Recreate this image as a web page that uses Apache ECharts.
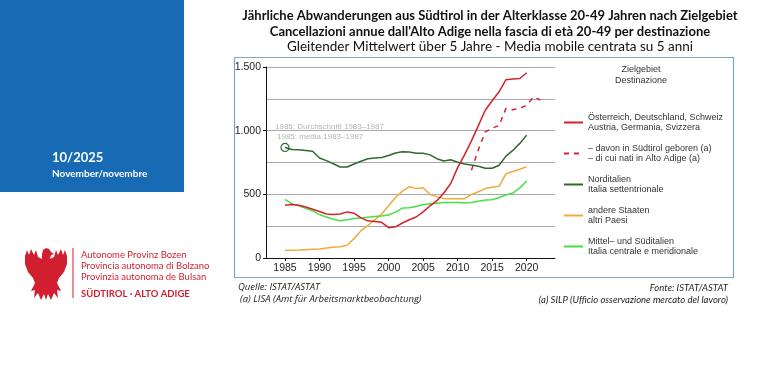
<!DOCTYPE html>
<html><head><meta charset="utf-8">
<script src="https://cdn.jsdelivr.net/npm/echarts@6/dist/echarts.min.js"></script>
<style>html,body{margin:0;padding:0;background:#fff}#c{width:784px;height:381px}</style>
</head><body><div id="c"></div>
<script>
const years = [1985,1986,1987,1988,1989,1990,1991,1992,1993,1994,1995,1996,1997,1998,1999,2000,2001,2002,2003,2004,2005,2006,2007,2008,2009,2010,2011,2012,2013,2014,2015,2016,2017,2018,2019,2020];
const austriaGermanySwiss = [415,420,415,400,383,365,345,342,345,362,352,315,292,287,280,238,245,275,300,322,362,410,450,510,585,710,810,920,1040,1160,1235,1305,1400,1405,1410,1455];
const bornYears = [2012,2013,2014,2015,2016,2017,2018,2019,2020,2021,2022];
const bornInSouthTyrol = [690,850,990,1020,1040,1175,1165,1175,1200,1265,1240];
const northItaly = [868,852,850,845,838,785,765,740,715,715,738,760,780,785,790,805,825,835,832,822,822,810,780,762,772,752,738,730,720,705,705,728,800,845,900,965];
const otherCountries = [60,60,62,65,68,70,78,85,88,100,152,215,255,300,345,410,475,525,560,545,552,500,480,468,465,466,466,500,520,545,555,563,662,680,697,718];
const centralSouthItaly = [460,425,410,390,370,340,322,305,293,300,310,315,320,325,330,338,360,392,395,405,420,425,430,435,435,435,432,435,445,455,458,475,495,510,550,605];
const xTickLabels = [1985,1990,1995,2000,2005,2010,2015,2020];
const yTickLabels = [0,500,1000,1500];

const names = [
  'Österreich, Deutschland, Schweiz\nAustria, Germania, Svizzera',
  '– davon in Südtirol geboren (a)\n– di cui nati in Alto Adige (a)',
  'Norditalien\nItalia settentrionale',
  'andere Staaten\naltri Paesi',
  'Mittel– und Süditalien\nItalia centrale e meridionale'
];
const pair = (xs, ys) => xs.map((x, i) => [x, ys[i]]);
const FONT = 'Liberation Sans';
const chart = echarts.init(document.getElementById('c'), null, {renderer: 'canvas'});

// eagle shape (decorative logo)
const eagle = [[46,248],[49,249],[51,252],[54,254],[51,255],[50,259],[54,257],[56,250],[58,255],[61,249],[63,255],[65,250],[67,256],[67,264],[64,272],[59,278],[57,283],[61,291],[57,290],[58,298],[54,293],[51,300],[48,294],[46,300],[44,294],[41,300],[38,293],[34,298],[35,290],[31,291],[35,283],[33,278],[28,272],[25,264],[25,256],[27,250],[29,255],[31,249],[34,255],[36,250],[38,257],[42,259],[42,254],[43,250]];

chart.setOption({
  animation: false,
  graphic: [
    {type: 'rect', shape: {x: 0, y: 0, width: 184, height: 192}, style: {fill: '#176bb4'}},
    {type: 'text', x: 52, y: 158, style: {text: '10/2025', fill: '#fff', font: 'bold 13px Lato', verticalAlign: 'middle'}},
    {type: 'text', x: 52, y: 174, style: {text: 'November/novembre', fill: '#fff', font: 'bold 10px Lato', verticalAlign: 'middle'}},
    {type: 'polygon', shape: {points: eagle}, style: {fill: '#d21f30'}},
    {type: 'rect', shape: {x: 72.5, y: 248, width: 1, height: 50}, style: {fill: '#d21f30'}},
    {type: 'text', x: 81, y: 254.5, style: {text: 'Autonome Provinz Bozen', fill: '#d21f30', font: '9.5px Lato', verticalAlign: 'middle'}},
    {type: 'text', x: 81, y: 265.5, style: {text: 'Provincia autonoma di Bolzano', fill: '#d21f30', font: '9.5px Lato', verticalAlign: 'middle'}},
    {type: 'text', x: 81, y: 276.5, style: {text: 'Provinzia autonoma de Bulsan', fill: '#d21f30', font: '9.5px Lato', verticalAlign: 'middle'}},
    {type: 'text', x: 81, y: 294, style: {text: 'SÜDTIROL · ALTO ADIGE', fill: '#d21f30', font: 'bold 9.5px Lato', verticalAlign: 'middle'}},
    {type: 'text', x: 490, y: 16, style: {text: 'Jährliche Abwanderungen aus Südtirol in der Alterklasse 20-49 Jahren nach Zielgebiet', fill: '#111', font: 'bold 13px Lato', align: 'center', verticalAlign: 'middle'}},
    {type: 'text', x: 490, y: 31.5, style: {text: "Cancellazioni annue dall'Alto Adige nella fascia di età 20-49 per destinazione", fill: '#111', font: 'bold 13px Lato', align: 'center', verticalAlign: 'middle'}},
    {type: 'text', x: 490, y: 46.5, style: {text: 'Gleitender Mittelwert über 5 Jahre - Media mobile centrata su 5 anni', fill: '#111', font: '13.5px Lato', align: 'center', verticalAlign: 'middle'}},
    {type: 'rect', shape: {x: 234.5, y: 57.5, width: 499, height: 220}, style: {fill: 'none', stroke: '#7fa6cb', lineWidth: 1.2}},
    {type: 'text', x: 641, y: 70, style: {text: 'Zielgebiet', fill: '#333', font: '9px ' + FONT, align: 'center', verticalAlign: 'middle'}},
    {type: 'text', x: 641, y: 81, style: {text: 'Destinazione', fill: '#333', font: '9px ' + FONT, align: 'center', verticalAlign: 'middle'}},
    {type: 'text', x: 275, y: 127, style: {text: '1985: Durchschnitt 1983–1987', fill: '#b4b4b4', font: '8px ' + FONT, verticalAlign: 'middle'}},
    {type: 'text', x: 277, y: 137, style: {text: '1985: media 1983–1987', fill: '#b4b4b4', font: '8px ' + FONT, verticalAlign: 'middle'}},
    {type: 'text', x: 238, y: 287.5, style: {text: 'Quelle: ISTAT/ASTAT', fill: '#222', font: 'italic 9.5px "Open Sans"', verticalAlign: 'middle'}},
    {type: 'text', x: 240, y: 299.5, style: {text: '(a) LISA (Amt für Arbeitsmarktbeobachtung)', fill: '#222', font: 'italic 9.5px "Open Sans"', verticalAlign: 'middle'}},
    {type: 'text', x: 728, y: 287.5, style: {text: 'Fonte: ISTAT/ASTAT', fill: '#222', font: 'italic 9.5px Lato', align: 'right', verticalAlign: 'middle'}},
    {type: 'text', x: 728, y: 299.5, style: {text: '(a) SILP (Ufficio osservazione mercato del lavoro)', fill: '#222', font: 'italic 9.5px Lato', align: 'right', verticalAlign: 'middle'}}
  ],
  legend: {
    orient: 'vertical', left: 558, top: 107, itemWidth: 19, itemHeight: 10, itemGap: 10,
    data: names,
    textStyle: {fontFamily: FONT, fontSize: 9, color: '#333', lineHeight: 10.5},
    itemStyle: {opacity: 0}
  },
  grid: {left: 266, top: 67, width: 289, height: 191, containLabel: false},
  xAxis: {
    type: 'value', min: 1982.25, max: 2024.1,
    axisLine: {lineStyle: {color: '#111', width: 1}},
    axisTick: {customValues: xTickLabels, length: 3, lineStyle: {color: '#111'}},
    axisLabel: {customValues: xTickLabels, margin: 5, color: '#222', fontFamily: FONT, fontSize: 10.5, formatter: v => String(v)},
    splitLine: {show: false}
  },
  yAxis: [
    {type: 'value', min: 0, max: 1500, interval: 250,
      axisLine: {show: false}, axisTick: {show: false}, axisLabel: {show: false},
      splitLine: {lineStyle: {color: '#aaaaaa', width: 1}}},
    {type: 'value', min: 0, max: 1500, interval: 500, position: 'left', offset: 0,
      axisLine: {show: true, lineStyle: {color: '#111', width: 1}},
      axisTick: {show: true, length: 3, lineStyle: {color: '#111'}},
      axisLabel: {margin: 5, color: '#222', fontFamily: FONT, fontSize: 10.5,
        formatter: v => v >= 1000 ? Math.floor(v / 1000) + '.' + String(v % 1000).padStart(3, '0') : String(v)},
      splitLine: {show: false}}
  ],
  series: [
    {name: names[3], type: 'line', yAxisIndex: 0, data: pair(years, otherCountries), symbol: 'none', z: 3,
      lineStyle: {color: '#f2a93b', width: 1.5}, itemStyle: {color: '#f2a93b'}},
    {name: names[4], type: 'line', yAxisIndex: 0, data: pair(years, centralSouthItaly), symbol: 'none', z: 3,
      lineStyle: {color: '#46e046', width: 1.5}, itemStyle: {color: '#46e046'}},
    {name: names[2], type: 'line', yAxisIndex: 0, data: pair(years, northItaly), symbol: 'none', z: 4,
      lineStyle: {color: '#2b6b2e', width: 1.5}, itemStyle: {color: '#2b6b2e'},
      markPoint: {symbol: 'circle', symbolSize: 8, silent: true, label: {show: false},
        itemStyle: {color: 'rgba(255,255,255,0)', borderColor: '#2b6b2e', borderWidth: 1.2},
        data: [{coord: [years[0], northItaly[0]]}]}},
    {name: names[0], type: 'line', yAxisIndex: 0, data: pair(years, austriaGermanySwiss), symbol: 'none', z: 5,
      lineStyle: {color: '#d6202c', width: 1.5}, itemStyle: {color: '#d6202c'}},
    {name: names[1], type: 'line', yAxisIndex: 0, data: pair(bornYears, bornInSouthTyrol), symbol: 'none', z: 5,
      lineStyle: {color: '#d6203c', width: 1.5, type: [5, 5]}, itemStyle: {color: '#d6203c'}}
  ]
});
</script></body></html>
